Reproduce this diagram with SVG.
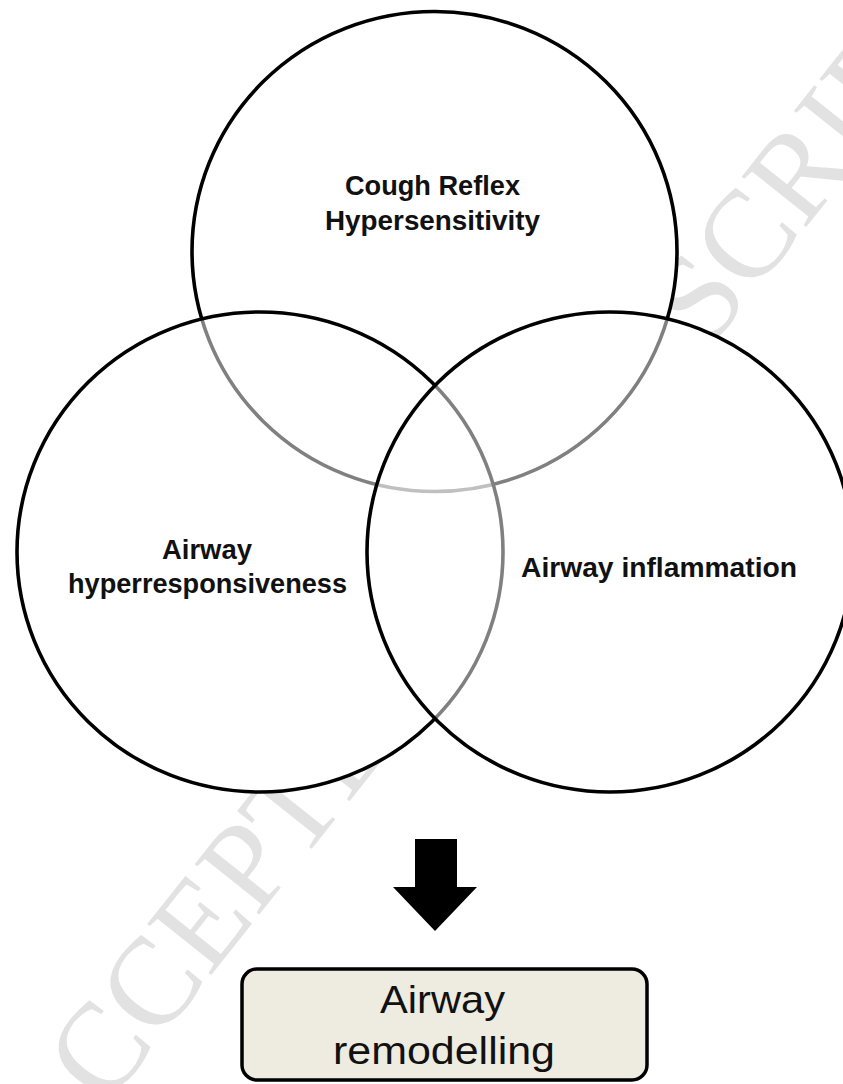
<svg xmlns="http://www.w3.org/2000/svg" width="843" height="1084" viewBox="0 0 843 1084">
  <style>
    .circle { stroke: #000; stroke-width: 3.6; }
    .under { fill: #fff; stroke: none; }
    .lbl { font-family: "Liberation Sans", Arial, sans-serif; font-weight: bold; font-size: 28px; fill: #111; text-anchor: middle; }
    .box-lbl { font-family: "Liberation Sans", Arial, sans-serif; font-size: 39px; fill: #111; text-anchor: middle; }
    .wm { font-family: "Liberation Serif", "Times New Roman", serif; font-size: 125px; fill: #e2e2e2; }
  </style>
  <rect x="0" y="0" width="843" height="1084" fill="#fff"/>
  <g id="watermark">
    <text class="wm" transform="translate(49,1179) rotate(-51.5)">ACCEPTED MANUSCRIPT</text>
  </g>
  <g id="circle-underlay">
    <ellipse class="under" cx="434.5" cy="251.5" rx="242.5" ry="240"/>
    <ellipse class="under" cx="260" cy="552" rx="243" ry="240"/>
    <ellipse class="under" cx="610" cy="552" rx="243" ry="240"/>
  </g>
  <g id="node-cough">
    <ellipse class="circle" cx="434.5" cy="251.5" rx="242.5" ry="240" fill="#fff"/>
    <text class="lbl" x="432.5" y="195" textLength="175" lengthAdjust="spacingAndGlyphs">Cough Reflex</text>
    <text class="lbl" x="432.5" y="230" textLength="215" lengthAdjust="spacingAndGlyphs">Hypersensitivity</text>
  </g>
  <g id="node-ahr">
    <ellipse class="circle" cx="260" cy="552" rx="243" ry="240" fill="#fff" fill-opacity="0.5"/>
  </g>
  <g id="node-inflammation">
    <ellipse class="circle" cx="610" cy="552" rx="243" ry="240" fill="#fff" fill-opacity="0.5"/>
  </g>
  <g id="labels-lower">
    <text class="lbl" x="207" y="559" textLength="90" lengthAdjust="spacingAndGlyphs">Airway</text>
    <text class="lbl" x="207.5" y="593" textLength="279" lengthAdjust="spacingAndGlyphs">hyperresponsiveness</text>
    <text class="lbl" x="659" y="577" textLength="276" lengthAdjust="spacingAndGlyphs">Airway inflammation</text>
  </g>
  <g id="connectors">
    <polygon points="415,839 457,839 457,887 477,887 435,931 393,887 415,887" fill="#000"/>
  </g>
  <g id="node-remodelling">
    <rect x="242" y="969" width="405" height="111" rx="15" ry="15" fill="#eeebe0" stroke="#000" stroke-width="3.5"/>
    <text class="box-lbl" x="442.5" y="1013" textLength="125" lengthAdjust="spacingAndGlyphs">Airway</text>
    <text class="box-lbl" x="444" y="1064" textLength="222" lengthAdjust="spacingAndGlyphs">remodelling</text>
  </g>
</svg>
